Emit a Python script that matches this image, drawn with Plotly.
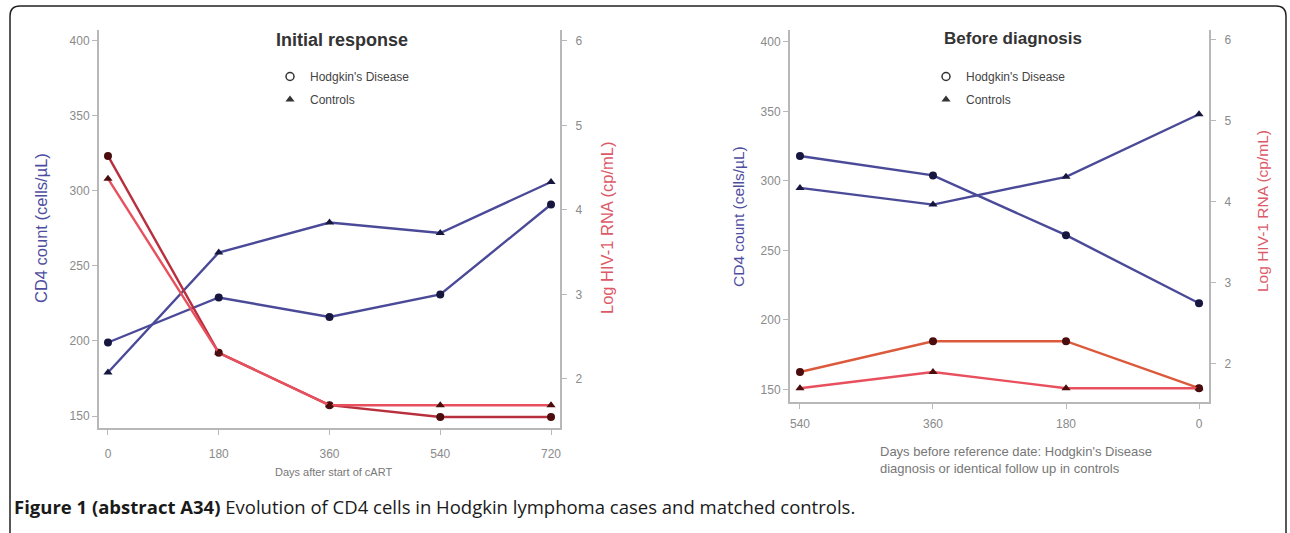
import plotly.graph_objects as go

# ---------------- data ----------------
days_initial = [0, 180, 360, 540, 720]
cd4_initial_hd = [199, 229, 216, 231, 291]
cd4_initial_ctrl = [179, 259, 279, 272, 306]
rna_initial_hd = [4.64, 2.31, 1.69, 1.55, 1.55]
rna_initial_ctrl = [4.37, 2.31, 1.69, 1.69, 1.69]

days_before = [540, 360, 180, 0]
cd4_before_hd = [318, 304, 261, 212]
cd4_before_ctrl = [295, 283, 303, 348]
rna_before_hd = [1.90, 2.28, 2.28, 1.70]
rna_before_ctrl = [1.70, 1.90, 1.70, 1.70]

cd4_ticks = [150, 200, 250, 300, 350, 400]
rna_ticks = [2, 3, 4, 5, 6]

W, H = 1290, 533


def px(x):
    return x / W


def py(y):
    return 1 - y / H


BLUE = "#4a4a98"
BLUE_MK = "#16163f"
RED1 = "#b8303e"
RED2 = "#e8505e"
RED3 = "#dc5a3c"
RED_MK = "#4a0c0c"
AX = "#b8b8b8"
FONT = "Liberation Sans"
TICKF = dict(family=FONT, size=12, color="#8a8a8a")

fig = go.Figure()


def add_line(x, y, xa, ya, color, symbol, mk):
    fig.add_trace(go.Scatter(
        x=x, y=y, xaxis=xa, yaxis=ya, mode="lines+markers",
        line=dict(color=color, width=2.4),
        marker=dict(symbol=symbol, size=8, color=mk),
        showlegend=False, hoverinfo="x+y"))


# left panel
add_line(days_initial, cd4_initial_hd, "x", "y", BLUE, "circle", BLUE_MK)
add_line(days_initial, cd4_initial_ctrl, "x", "y", BLUE, "triangle-up", BLUE_MK)
add_line(days_initial, rna_initial_hd, "x", "y2", RED1, "circle", RED_MK)
add_line(days_initial, rna_initial_ctrl, "x", "y2", RED2, "triangle-up", RED_MK)
# right panel
add_line(days_before, cd4_before_hd, "x2", "y3", BLUE, "circle", BLUE_MK)
add_line(days_before, cd4_before_ctrl, "x2", "y3", BLUE, "triangle-up", BLUE_MK)
add_line(days_before, rna_before_hd, "x2", "y4", RED3, "circle", RED_MK)
add_line(days_before, rna_before_ctrl, "x2", "y4", RED2, "triangle-up", RED_MK)

# legend entries
for lg, xa, ya in [("legend", "x", "y"), ("legend2", "x2", "y3")]:
    fig.add_trace(go.Scatter(x=[None], y=[None], xaxis=xa, yaxis=ya, mode="markers",
                             marker=dict(symbol="circle-open", size=8, color="#333",
                                         line=dict(width=1.5, color="#333")),
                             name="Hodgkin's Disease", legend=lg, legendgroup=lg + "a"))
    fig.add_trace(go.Scatter(x=[None], y=[None], xaxis=xa, yaxis=ya, mode="markers",
                             marker=dict(symbol="triangle-up", size=8, color="#333"),
                             name="Controls", legend=lg, legendgroup=lg + "b"))

common = dict(showline=True, linecolor=AX, linewidth=2, ticks="outside", ticklen=5,
              tickcolor=AX, tickwidth=1, tickfont=TICKF, showgrid=False, zeroline=False)

leg = dict(font=dict(family=FONT, size=12, color="#444"),
           bgcolor="rgba(0,0,0,0)", tracegroupgap=4, itemwidth=30,
           xanchor="left", yanchor="top", traceorder="grouped")

fig.update_layout(
    width=W, height=H, margin=dict(l=0, r=0, t=0, b=0),
    paper_bgcolor="white", plot_bgcolor="white",
    xaxis=dict(domain=[px(99), px(560)], range=[-14.6, 734.6], tickvals=days_initial,
               anchor="y", ticklabelstandoff=9, **common),
    yaxis=dict(domain=[py(428), py(30)], range=[142, 407.3], tickvals=cd4_ticks,
               anchor="x", side="left", **common),
    yaxis2=dict(overlaying="y", anchor="x", side="right", range=[1.42, 6.13],
                tickvals=rna_ticks, ticklabelstandoff=6, **common),
    xaxis2=dict(domain=[px(790), px(1209)], range=[553.5, -13.5], tickvals=days_before,
                anchor="y3", ticklabelstandoff=5, **common),
    yaxis3=dict(domain=[py(402), py(30)], range=[141, 408.6], tickvals=cd4_ticks,
                anchor="x2", side="left", **common),
    yaxis4=dict(overlaying="y3", anchor="x2", side="right", range=[1.53, 6.12],
                tickvals=rna_ticks, ticklabelstandoff=6, **common),
    legend=dict(x=px(270), y=py(62), **leg),
    legend2=dict(x=px(926), y=py(62), **leg),
)


def note(x, y, text, size, color, angle=0, xanchor="center", align="center", family=FONT):
    return dict(x=px(x), y=py(y), text=text, textangle=angle, showarrow=False,
                xref="paper", yref="paper", xanchor=xanchor, yanchor="middle", align=align,
                font=dict(family=family, size=size, color=color))


ann = [
    note(342, 40, "<b>Initial response</b>", 18, "#333"),
    note(1013, 38, "<b>Before diagnosis</b>", 17, "#333"),
    note(41, 228, "CD4 count (cells/µL)", 16.5, "#4e4ea0", -90),
    note(738, 216, "CD4 count (cells/µL)", 15.5, "#4e4ea0", -90),
    note(607, 228, "Log HIV-1 RNA (cp/mL)", 16.5, "#dc5a68", -90),
    note(1262, 211, "Log HIV-1 RNA (cp/mL)", 15.5, "#dc5a68", -90),
    note(333, 472, "Days after start of cART", 11, "#777"),
    note(1016, 460,
         "Days before reference date: Hodgkin's Disease<br>diagnosis or identical follow up in controls",
         13, "#777", align="left"),
    note(12, 506,
         "<b>Figure 1 (abstract A34)</b> Evolution of CD4 cells in Hodgkin lymphoma cases and matched controls.",
         18.5, "#1a1a1a", xanchor="left", align="left", family="Open Sans"),
]
fig.update_layout(annotations=ann)

# rounded frame
x0, y0, x1, y1, r = px(10), py(6), px(1286), py(560), 10
rx, ry = r / W, r / H
path = (f"M {x0},{y1} L {x0},{y0 - ry} Q {x0},{y0} {x0 + rx},{y0} "
        f"L {x1 - rx},{y0} Q {x1},{y0} {x1},{y0 - ry} L {x1},{y1}")
fig.add_shape(type="path", path=path, xref="paper", yref="paper",
              line=dict(color="#222", width=1.5), layer="below")

fig.write_html("out.html", config={"displayModeBar": False},
               post_script="document.body.style.margin='0';")
